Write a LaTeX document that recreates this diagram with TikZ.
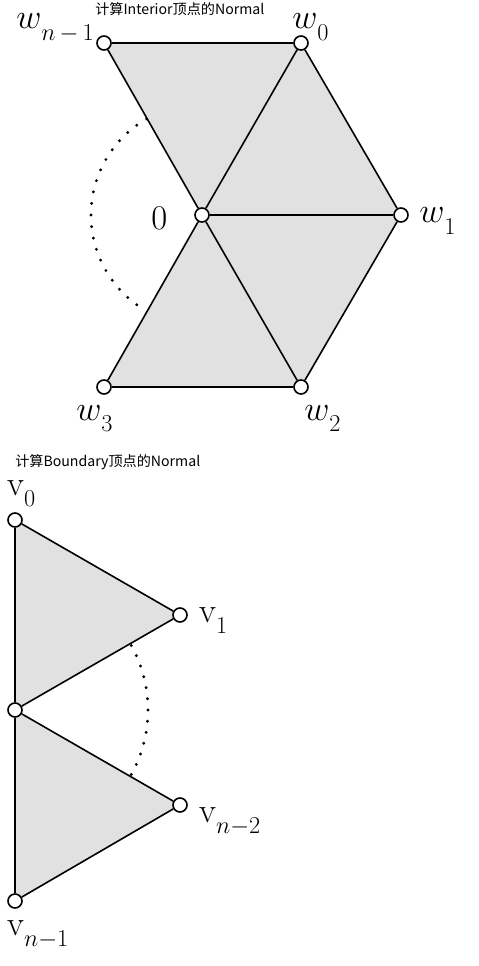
\RequirePackage{fix-cm}
\documentclass[tikz,border=0pt]{standalone}
\usepackage{fontspec}
\newfontfamily\cjk{Noto Sans CJK SC}
\usetikzlibrary{calc,backgrounds}
\pgfdeclarelayer{bottom}
\pgfsetlayers{bottom,background,main}
\definecolor{facegray}{RGB}{225,225,225}
\newcommand\lsub[1]{\lower0.33em\hbox{$\scriptstyle#1$}}
\begin{document}
\begin{tikzpicture}[x=0.75pt,y=-0.75pt,
  vert/.style={circle,draw,fill=white,line width=1.2pt,minimum size=10.5pt,inner sep=0pt},
  edge/.style={line width=1.2pt},
  face/.style={fill=facegray},
  lbl/.style={anchor=base west,inner sep=0pt,font=\fontsize{26}{26}\selectfont},
  ttl/.style={anchor=base west,inner sep=0pt,font=\cjk\fontsize{10.6}{12}\selectfont},
  arcdot/.style={fill=black}]
\begin{pgfonlayer}{bottom}
  \fill[white] (0,0) rectangle (478,966);
\end{pgfonlayer}
\useasboundingbox (0,0) rectangle (478,966);

% titles
\node[ttl] (t1) at (95,15) {计算Interior顶点的Normal};
\node[ttl] (t2) at (15,466) {计算Boundary顶点的Normal};

% top: interior vertex
\node[vert] (c)  at (202,215) {};
\node[vert] (w0) at (301,43) {};
\node[vert] (wn) at (104,43) {};
\node[vert] (w1) at (401,215) {};
\node[vert] (w2) at (301,387) {};
\node[vert] (w3) at (104,387) {};

% bottom: boundary vertex
\node[vert] (v0)  at (15,520) {};
\node[vert] (v1)  at (180,615) {};
\node[vert] (m)   at (15,710) {};
\node[vert] (vn2) at (180,805) {};
\node[vert] (vn1) at (15,901) {};

\begin{pgfonlayer}{background}
  \fill[face] (wn.center) -- (w0.center) -- (c.center) -- cycle;
  \fill[face] (w0.center) -- (w1.center) -- (c.center) -- cycle;
  \fill[face] (w1.center) -- (w2.center) -- (c.center) -- cycle;
  \fill[face] (w2.center) -- (w3.center) -- (c.center) -- cycle;
  \fill[face] (v0.center) -- (v1.center) -- (m.center) -- cycle;
  \fill[face] (m.center) -- (vn2.center) -- (vn1.center) -- cycle;
  \draw[edge] (wn) -- (w0);
  \draw[edge] (wn) -- (c);
  \draw[edge] (w0) -- (c);
  \draw[edge] (w0) -- (w1);
  \draw[edge] (c) -- (w1);
  \draw[edge] (w1) -- (w2);
  \draw[edge] (c) -- (w2);
  \draw[edge] (w2) -- (w3);
  \draw[edge] (c) -- (w3);
  \draw[edge] (v0) -- (v1);
  \draw[edge] (v0) -- (m);
  \draw[edge] (v1) -- (m);
  \draw[edge] (m) -- (vn2);
  \draw[edge] (m) -- (vn1);
  \draw[edge] (vn2) -- (vn1);
\end{pgfonlayer}

% dotted arcs
\foreach \k in {0,...,19}
  \fill[arcdot] ($(c)+({111*cos(120+6*\k)},{-111*sin(120+6*\k)})$) circle[radius=1.2pt];
\foreach \k in {0,...,12}
  \fill[arcdot] ($(m)+({133*cos(29-58/12*\k)},{-133*sin(29-58/12*\k)})$) circle[radius=1.2pt];

% labels
\node[lbl] (lwn) at (16,29)  {$w\lsub{n\,-\,1}$};
\node[lbl] (lw0) at (292,29) {$w\lsub{0}$};
\node[lbl] (lw1) at (419,223) {$w\lsub{1}$};
\node[lbl] (lw2) at (304,420) {$w\lsub{2}$};
\node[lbl] (lw3) at (76,420) {$w\lsub{3}$};
\node[lbl] (lc)  at (151,229) {$0$};
\node[lbl] (lv0) at (7,495) {$\mathrm{v}\lsub{0}$};
\node[lbl] (lv1) at (199,622) {$\mathrm{v}\lsub{1}$};
\node[lbl] (lvn2) at (199,822) {$\mathrm{v}\lsub{n-2}$};
\node[lbl] (lvn1) at (7,935) {$\mathrm{v}\lsub{n-1}$};
\end{tikzpicture}
\end{document}
